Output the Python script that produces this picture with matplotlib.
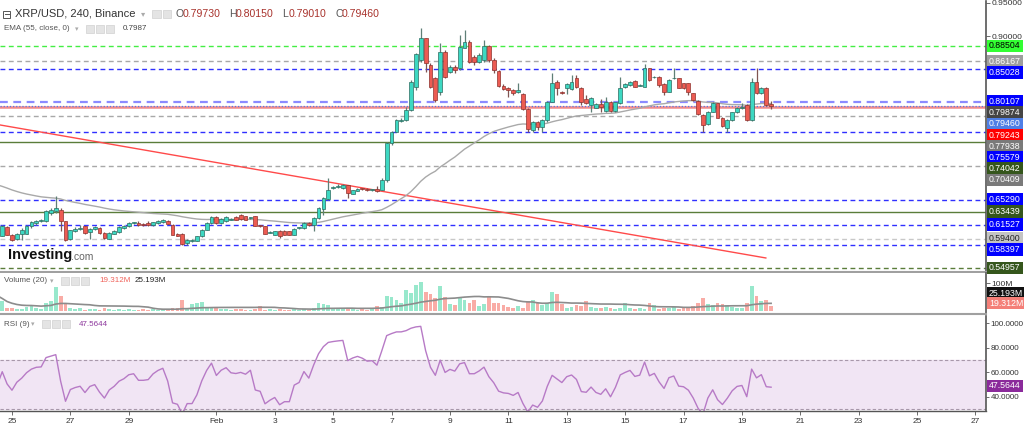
import numpy as np
import pandas as pd
import matplotlib
matplotlib.use('Agg')
import matplotlib.pyplot as plt
from matplotlib.patches import Rectangle

# ---------------- data ----------------
opens = [0.5834,0.5985,0.6111,0.6000,0.5934,0.6015,0.6015,0.6126,0.6176,0.6206,
         0.6201,0.6327,0.6353,0.6378,0.6201,0.5934,0.6050,0.6091,0.6126,0.6035,
         0.6091,0.6101,0.6025,0.5939,0.6015,0.6035,0.6101,0.6126,0.6176,0.6176,
         0.6161,0.6176,0.6146,0.6176,0.6186,0.6211,0.6151,0.6015,0.6015,0.5874,
         0.5899,0.5909,0.5975,0.6075,0.6176,0.6267,0.6176,0.6201,0.6227,0.6267,
         0.6302,0.6277,0.6252,0.6277,0.6136,0.6126,0.6030,0.6000,0.6060,0.6060,
         0.6050,0.6000,0.6096,0.6101,0.6176,0.6141,0.6252,0.6388,0.6539,0.6700,
         0.6720,0.6705,0.6746,0.6620,0.6665,0.6690,0.6690,0.6670,0.6690,0.6680,
         0.6831,0.7380,0.7555,0.7716,0.7732,0.7883,0.8236,0.8639,0.8966,0.8563,
         0.8362,0.8160,0.8765,0.8462,0.8538,0.8513,0.8825,0.8916,0.8689,0.8614,
         0.8639,0.8850,0.8639,0.8472,0.8251,0.8220,0.8185,0.8160,0.8120,0.7898,
         0.7580,0.7696,0.7631,0.7732,0.8009,0.8311,0.8160,0.8220,0.8200,0.8372,
         0.8220,0.8049,0.7958,0.7918,0.7969,0.7868,0.8009,0.7868,0.7984,0.8236,
         0.8261,0.8321,0.8251,0.8236,0.8513,0.8377,0.8387,0.8271,0.8160,0.8362,
         0.8362,0.8286,0.8286,0.8135,0.8019,0.7807,0.7666,0.7858,0.7984,0.7767,
         0.7616,0.7732,0.7847,0.7908,0.7958,0.7732,0.8311,0.8135,0.8220,0.7973]
highs = [0.6000,0.6151,0.6126,0.6010,0.6025,0.6101,0.6151,0.6211,0.6227,0.6237,
         0.6378,0.6403,0.6580,0.6403,0.6211,0.6075,0.6111,0.6151,0.6136,0.6101,
         0.6136,0.6111,0.6035,0.6035,0.6075,0.6126,0.6151,0.6186,0.6196,0.6211,
         0.6176,0.6201,0.6196,0.6222,0.6242,0.6227,0.6161,0.6025,0.6025,0.5934,
         0.5939,0.5985,0.6085,0.6186,0.6282,0.6282,0.6247,0.6277,0.6247,0.6277,
         0.6317,0.6287,0.6272,0.6287,0.6146,0.6136,0.6050,0.6060,0.6070,0.6070,
         0.6060,0.6096,0.6116,0.6186,0.6186,0.6262,0.6413,0.6564,0.6857,0.6730,
         0.6760,0.6770,0.6756,0.6680,0.6705,0.6700,0.6700,0.6690,0.6730,0.6857,
         0.7400,0.7570,0.7750,0.7767,0.7933,0.8336,0.8739,0.9118,0.8976,0.8588,
         0.8387,0.8891,0.8790,0.8563,0.8563,0.9017,0.9092,0.8941,0.8714,0.8739,
         0.8941,0.8866,0.8664,0.8488,0.8271,0.8236,0.8200,0.8296,0.8135,0.7908,
         0.7716,0.7716,0.7742,0.8019,0.8437,0.8336,0.8170,0.8296,0.8412,0.8412,
         0.8236,0.8110,0.8085,0.7984,0.8049,0.8085,0.8019,0.8009,0.8387,0.8286,
         0.8321,0.8331,0.8271,0.8573,0.8523,0.8392,0.8397,0.8286,0.8346,0.8513,
         0.8372,0.8296,0.8296,0.8145,0.8029,0.7817,0.7868,0.8009,0.7994,0.7777,
         0.7742,0.7858,0.7933,0.7984,0.7969,0.8362,0.8523,0.8236,0.8230,0.8015]
lows = [0.5672,0.5975,0.5990,0.5899,0.5924,0.5924,0.6005,0.6101,0.6151,0.6186,
        0.6196,0.6302,0.6327,0.6050,0.5899,0.5924,0.6040,0.6075,0.6015,0.5939,
        0.6075,0.6015,0.5939,0.5929,0.6005,0.6025,0.6091,0.6116,0.6166,0.6131,
        0.6126,0.6136,0.6136,0.6166,0.6176,0.6156,0.5990,0.5975,0.5849,0.5849,
        0.5889,0.5899,0.5965,0.6065,0.6166,0.6166,0.6166,0.6191,0.6216,0.6216,
        0.6227,0.6216,0.6242,0.6126,0.6111,0.6005,0.6020,0.5990,0.5949,0.5990,
        0.5990,0.5990,0.6085,0.6091,0.6131,0.6050,0.6242,0.6302,0.6529,0.6690,
        0.6705,0.6695,0.6554,0.6610,0.6655,0.6675,0.6660,0.6660,0.6645,0.6670,
        0.6800,0.7350,0.7545,0.7696,0.7716,0.7873,0.8185,0.8613,0.8462,0.8211,
        0.8009,0.8110,0.8362,0.8437,0.8437,0.8488,0.8815,0.8588,0.8563,0.8588,
        0.8614,0.8614,0.8437,0.8236,0.8185,0.8085,0.8110,0.8140,0.7883,0.7555,
        0.7545,0.7580,0.7545,0.7706,0.7999,0.8110,0.8120,0.8120,0.8190,0.8220,
        0.7958,0.7974,0.7858,0.7908,0.7858,0.7858,0.7847,0.7858,0.7974,0.8220,
        0.8251,0.8226,0.8241,0.8226,0.8326,0.8367,0.8236,0.8110,0.8150,0.8352,
        0.8210,0.8200,0.8110,0.8024,0.7807,0.7545,0.7656,0.7847,0.7757,0.7631,
        0.7555,0.7722,0.7837,0.7898,0.7722,0.7722,0.8120,0.8125,0.7948,0.7901]
closes = [0.5975,0.6126,0.6000,0.5924,0.6015,0.6065,0.6136,0.6186,0.6211,0.6216,
          0.6353,0.6378,0.6403,0.6201,0.5924,0.6065,0.6091,0.6106,0.6025,0.6091,
          0.6111,0.6025,0.5949,0.6025,0.6060,0.6111,0.6136,0.6176,0.6186,0.6141,
          0.6141,0.6146,0.6186,0.6211,0.6227,0.6166,0.6000,0.5985,0.5864,0.5924,
          0.5924,0.5975,0.6075,0.6176,0.6267,0.6176,0.6237,0.6267,0.6232,0.6227,
          0.6237,0.6227,0.6257,0.6136,0.6126,0.6015,0.6035,0.6050,0.5985,0.6000,
          0.6000,0.6085,0.6101,0.6176,0.6141,0.6252,0.6403,0.6554,0.6680,0.6710,
          0.6731,0.6746,0.6630,0.6670,0.6695,0.6685,0.6670,0.6675,0.6655,0.6831,
          0.7380,0.7555,0.7732,0.7737,0.7883,0.8311,0.8724,0.8966,0.8588,0.8236,
          0.8034,0.8755,0.8387,0.8538,0.8488,0.8840,0.8906,0.8614,0.8614,0.8714,
          0.8855,0.8639,0.8488,0.8251,0.8200,0.8185,0.8135,0.8185,0.7898,0.7590,
          0.7706,0.7631,0.7732,0.8009,0.8286,0.8210,0.8135,0.8271,0.8311,0.8236,
          0.7999,0.7984,0.8069,0.7969,0.7933,0.8009,0.7868,0.7999,0.8220,0.8271,
          0.8311,0.8236,0.8256,0.8513,0.8336,0.8382,0.8261,0.8160,0.8336,0.8367,
          0.8220,0.8210,0.8160,0.8034,0.7817,0.7656,0.7858,0.7984,0.7767,0.7641,
          0.7732,0.7847,0.7918,0.7933,0.7732,0.8311,0.8135,0.8220,0.7958,0.7946]
volumes = [55,35,12,9,6,8,14,18,10,7,
           30,35,85,55,28,10,6,9,5,8,
           7,5,9,6,4,8,5,6,4,5,
           6,4,7,5,8,6,10,9,40,12,
           25,30,32,15,12,10,8,6,5,7,
           6,5,4,7,18,5,8,5,6,4,
           5,6,4,7,5,9,30,25,20,12,
           8,10,6,7,5,6,5,9,18,15,
           55,50,40,30,75,65,95,105,70,60,
           45,90,50,25,20,45,38,30,40,18,
           25,55,30,28,22,15,12,18,12,35,
           40,28,20,30,70,60,25,10,15,20,
           18,35,15,12,10,15,10,8,12,28,
           10,8,12,6,30,22,8,10,12,15,
           8,10,12,18,30,45,25,20,30,25,
           20,15,12,10,30,90,55,35,40,19.312]
first_candle_day = -0.5          # Jan 24, 12:00 (days from Jan 25)
candle_days = 4 / 24
ema_start = 0.678                # EMA value at the left edge
ema_last = 0.79874               # EMA value shown on the price scale
vol_ma_last = 25.193
rsi_last = 47.5644
rsi_start_gain = 0.004
rsi_start_loss = 0.004

levels = [0.88504, 0.86167, 0.85028, 0.80107, 0.79243, 0.77938, 0.75579, 0.74042,
          0.70409, 0.65290, 0.63439, 0.61527, 0.59400, 0.58397, 0.54957]
trend_days = [-0.41, 25.82]
trend_prices = [0.7657, 0.5647]
tick_days = [0, 2, 4, 7, 9, 11, 13, 15, 17, 19, 21, 23, 25, 27, 29, 31, 33]
tick_labels = ['25', '27', '29', 'Feb', '3', '5', '7', '9', '11', '13', '15',
               '17', '19', '21', '23', '25', '27']

# ---------------- derived indicators ----------------
O = np.array(opens); Hh = np.array(highs); L = np.array(lows); C = np.array(closes)
V = np.array(volumes)
n = len(C)
t = first_candle_day + np.arange(n) * candle_days

a = 2 / 56
ema = np.empty(n); prev = ema_start
for i in range(n):
    prev = a * C[i] + (1 - a) * prev
    ema[i] = prev

ag, al = rsi_start_gain, rsi_start_loss
rsi = np.empty(n); prevc = C[0]
for i in range(n):
    d = C[i] - prevc if i else 0.0
    ag = (ag * 8 + max(d, 0)) / 9
    al = (al * 8 + max(-d, 0)) / 9
    rsi[i] = 100 - 100 / (1 + ag / al)
    prevc = C[i]
vol_ma = pd.Series(V).rolling(20, min_periods=1).mean().values

# ---------------- figure ----------------
W, H = 1024, 433
fig = plt.figure(figsize=(W / 100, H / 100), dpi=100)
plt.rcParams['font.family'] = ['Liberation Sans', 'DejaVu Sans']

def rect(x0, y0, x1, y1):
    return [x0 / W, 1 - y1 / H, (x1 - x0) / W, (y1 - y0) / H]

ax = fig.add_axes(rect(0, 1, 986, 272))
axv = fig.add_axes(rect(0, 273, 986, 314), sharex=ax)
axr = fig.add_axes(rect(0, 316, 986, 411), sharex=ax)

XMIN, XMAX = -0.41, 33.36
ax.set_xlim(XMIN, XMAX)
ax.set_ylim(0.5435, 0.9530)

for a_ in (ax, axv, axr):
    a_.set_facecolor('white')
    for s in ('left', 'top'):
        a_.spines[s].set_visible(False)
    a_.spines['right'].set_color('#555555')
    a_.spines['right'].set_linewidth(1.2)
    a_.spines['bottom'].set_color('#a0a0a0')
    a_.spines['bottom'].set_linewidth(1.5)
    a_.yaxis.tick_right()
    a_.tick_params(axis='y', direction='out', length=3, width=0.6, colors='#555555',
                   labelsize=6.1, labelcolor='#333333', pad=1.0)
axr.tick_params(axis='y', labelsize=5.8, length=2.5, pad=0.8)
axr.spines['bottom'].set_color('#555555')
axr.spines['bottom'].set_linewidth(1.0)
ax.tick_params(axis='x', bottom=False, labelbottom=False)
axv.tick_params(axis='x', bottom=False, labelbottom=False)

# horizontal levels
dash = (0, (3.5, 2.5))
level_styles = {
    0.88504: ('#44ee44', dash, 1.0),
    0.86167: ('#a8a8a8', dash, 1.0),
    0.85028: ('#3030ff', dash, 1.0),
    0.80107: ('#8a8aff', dash, 1.6),
    0.79243: ('#f28b8b', '-', 1.8),
    0.77938: ('#a8a8a8', dash, 1.0),
    0.75579: ('#3030ff', dash, 1.0),
    0.74042: ('#5a7d3a', '-', 1.0),
    0.70409: ('#a8a8a8', dash, 1.0),
    0.65290: ('#3030ff', dash, 1.0),
    0.63439: ('#5a7d3a', '-', 1.0),
    0.61527: ('#3030ff', dash, 1.0),
    0.59400: ('#c8c8c8', dash, 1.0),
    0.58397: ('#3030ff', dash, 1.0),
    0.54957: ('#5a7d3a', dash, 1.0),
}
for v in levels:
    col, ls, lw = level_styles[v]
    ax.axhline(v, color=col, ls=ls, lw=lw, zorder=1)
ax.axhline(C[-1], color='#5a78e0', ls=(0, (1, 1.5)), lw=0.9, zorder=1)

# trend line
ax.plot(trend_days, trend_prices, color='#ff4a4a', lw=1.0, zorder=2)
# EMA
ax.plot(t, ema, color='#a9a9a9', lw=1.0, zorder=2)

# candles
up = C >= O
body_col = np.where(up, '#3dd8c2', '#ec5b52')
edge_col = np.where(up, '#2c6b5f', '#8e322d')
wick_col = np.where(up, '#5f7f77', '#7f5552')
ax.vlines(t, L, Hh, colors=wick_col, lw=0.9, zorder=3)
ax.bar(t, np.maximum(np.abs(C - O), 0.0012), bottom=np.minimum(O, C), width=0.13,
       color=body_col, edgecolor=edge_col, lw=0.5, zorder=4)

ax.set_yticks([0.90, 0.95])
ax.set_yticklabels(['0.90000', '0.95000'])

# volume
axv.bar(t, V, width=0.13, color=np.where(up, '#98e8cc', '#f9aca6'), zorder=2)
axv.plot(t, vol_ma, color='#8c8c8c', lw=1.2, zorder=3)
axv.set_ylim(-11, 137)
axv.set_yticks([100])
axv.set_yticklabels(['100M'])

# RSI
axr.axhspan(30, 70, color='#f1e5f4', zorder=0)
axr.axhline(70, color='#a898aa', ls=(0, (3, 2)), lw=0.8, zorder=1)
axr.axhline(30, color='#a898aa', ls=(0, (3, 2)), lw=0.8, zorder=1)
axr.plot(t, rsi, color='#b77ac6', lw=1.0, zorder=2)
axr.set_ylim(28.6, 105.7)
axr.set_yticks([40, 60, 80, 100])
axr.set_yticklabels(['40.0000', '60.0000', '80.0000', '100.0000'])
axr.set_xticks(tick_days)
axr.set_xticklabels(tick_labels)
axr.tick_params(axis='x', direction='out', length=3, width=0.6, colors='#555555',
                labelsize=6.0, labelcolor='#333333', pad=2)

# ---------------- right-hand value labels ----------------
label_items = [
    (0.88504, '#33ff33', 'black'), (0.86167, '#9e9e9e', 'white'),
    (0.85028, '#0000ff', 'white'), (0.80107, '#0000ff', 'white'),
    (ema_last, '#454545', 'white'), (C[-1], '#4f7fe6', 'white'),
    (0.79243, '#ff0000', 'white'), (0.77938, '#7a7a7a', 'white'),
    (0.75579, '#0000ff', 'white'), (0.74042, '#35561c', 'white'),
    (0.70409, '#7a7a7a', 'white'), (0.65290, '#0000ff', 'white'),
    (0.63439, '#35561c', 'white'), (0.61527, '#0000ff', 'white'),
    (0.59400, '#c4c4c4', '#222222'), (0.58397, '#0000ff', 'white'),
    (0.54957, '#35561c', 'white'),
]
label_items.sort(key=lambda r: -r[0])
prev_y = -100
for val, bg, fg in label_items:
    ypix = H - ax.transData.transform((0, val))[1]
    ypix = max(ypix, prev_y + 11.2)
    prev_y = ypix
    fig.text(989 / W, 1 - ypix / H, f'{val:.5f}', fontsize=6.3, color=fg,
             va='center', ha='left',
             bbox=dict(boxstyle='square,pad=0.22', fc=bg, ec='none'))

def vlabel(ypix, text, bg, fg):
    fig.text(989 / W, 1 - ypix / H, text, fontsize=6.3, color=fg, va='center', ha='left',
             bbox=dict(boxstyle='square,pad=0.22', fc=bg, ec='none'))

vlabel(293, f'{vol_ma_last:.3f}M', '#111111', 'white')
vlabel(303, f'{V[-1]:.3f}M', '#f47f78', 'white')
vlabel(386, f'{rsi_last:.4f}', '#8b2a9b', 'white')

# ---------------- header texts ----------------
def ftext(x, y, s, **kw):
    fig.text(x / W, 1 - y / H, s, va='center', ha='left', **kw)

def icons(x0, y, count, size=8):
    for k in range(count):
        fig.patches.append(Rectangle(((x0 + k * (size + 2)) / W, 1 - (y + size / 2) / H),
                                     size / W, size / H, transform=fig.transFigure,
                                     fc='#e4e4e4', ec='#d0d0d0', lw=0.5))

# collapse box
fig.patches.append(Rectangle((3 / W, 1 - 17.5 / H), 7 / W, 7 / H, transform=fig.transFigure,
                             fc='white', ec='#555555', lw=0.7))
fig.lines.append(plt.Line2D([4.5 / W, 8.5 / W], [1 - 14 / H, 1 - 14 / H],
                            transform=fig.transFigure, color='#555555', lw=0.7))
ftext(15, 14, 'XRP/USD, 240, Binance', fontsize=8.0, color='#333333')
ftext(141, 14, '▾', fontsize=6, color='#aaaaaa', family=['DejaVu Sans'])
icons(152, 14, 2, size=8.5)
x = 176
for lab, val in (('O', '0.79730'), ('H', '0.80150'), ('L', '0.79010'), ('C', '0.79460')):
    ftext(x, 14, lab, fontsize=7.6, color='#555555')
    ftext(x + 6.5, 14, val, fontsize=7.6, color='#a8322c')
    x += 53

ftext(4, 29, 'EMA (55, close, 0)', fontsize=5.8, color='#555555')
ftext(75, 29, '▾', fontsize=5, color='#aaaaaa', family=['DejaVu Sans'])
icons(86, 29, 3, size=8)
ftext(123, 29, f'{ema_last:.4f}', fontsize=5.8, color='#444444')

ftext(4, 281, 'Volume (20)', fontsize=5.8, color='#555555')
ftext(50, 281, '▾', fontsize=5, color='#aaaaaa', family=['DejaVu Sans'])
icons(61, 281, 3, size=8)
ftext(99, 281, f'{V[-1]:.3f}M', fontsize=5.8, color='#f0625a')
ftext(135, 281, f'{vol_ma_last:.3f}M', fontsize=5.8, color='#222222')

ftext(4, 324, 'RSI (9)', fontsize=5.8, color='#555555')
ftext(31, 324, '▾', fontsize=5, color='#aaaaaa', family=['DejaVu Sans'])
icons(42, 324, 3, size=8)
ftext(79, 324, f'{rsi_last:.4f}', fontsize=5.8, color='#8e3a9e')

# watermark
ftext(8, 255, 'Investing', fontsize=10.5, fontweight='bold', color='#111111')
ftext(71, 256.5, '.com', fontsize=7.5, color='#666666')

fig.savefig('out.png', dpi=100)
